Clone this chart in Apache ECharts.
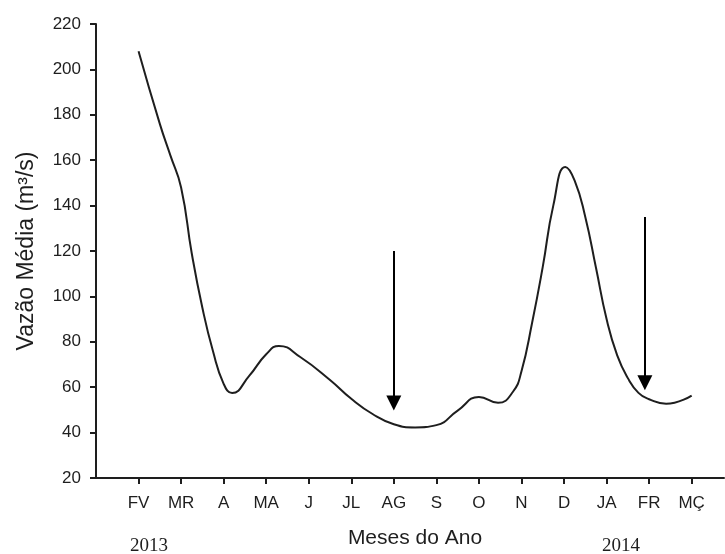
<!DOCTYPE html>
<html>
<head>
<meta charset="utf-8">
<script src="https://cdn.jsdelivr.net/npm/echarts@6/dist/echarts.min.js"></script>
<style>
html,body{margin:0;padding:0;background:#fff;}
#chart{width:725px;height:554px;}
</style>
</head>
<body>
<div id="chart"></div>
<script>
// Tick labels (months), category index 0..13
var months = ['FV','MR','A','MA','J','JL','AG','S','O','N','D','JA','FR','MÇ'];
var yearLabels = ['2013','2014'];
// Curve samples: position in month units, mean flow (m3/s)
var samplePos = [0, 0.5, 0.75, 1, 1.25, 1.5, 1.75, 2, 2.2, 2.6, 3, 3.3, 3.8, 4.5, 5, 5.5, 6, 6.5, 7, 7.5, 8, 8.45, 8.8, 9, 9.25, 9.5, 9.75, 10.03, 10.25, 10.5, 10.75, 11, 11.25, 11.5, 11.75, 12, 12.4, 13];
var flow      = [208, 176, 162, 148, 119, 95, 75.8, 61.5, 57.4, 65, 74.5, 78.2, 73.3, 63.2, 54.9, 48.2, 43.7, 42.3, 43.3, 49.7, 55.7, 53.1, 58, 67, 88.4, 113, 140.2, 157, 151, 135, 112.7, 90, 74, 64, 57.5, 54.7, 52.7, 56.3];
// Arrows: x position (month units), start value, end value
var arrowPos   = [6, 11.9];
var arrowStart = [120, 135];
var arrowEnd   = [53, 62];

var lineData = samplePos.map(function (p, i) { return [p, flow[i]]; });
var arrowData = arrowPos.map(function (p, i) {
  return { coords: [[p, arrowStart[i]], [p, arrowEnd[i]]] };
});
var tickVals = months.map(function (m, i) { return i; });

var chart = echarts.init(document.getElementById('chart'));
var txt = '#1e1e1e';
chart.setOption({
  animation: false,
  backgroundColor: '#fff',
  grid: { left: 96, right: 1, top: 24, bottom: 72, containLabel: false },
  xAxis: {
    type: 'value',
    min: -1, max: 13.76, interval: 1,
    name: 'Meses do Ano',
    nameLocation: 'middle',
    nameGap: 50,
    nameTextStyle: { fontFamily: 'Liberation Sans', fontSize: 21, color: txt, padding: [0, 0, 0, 10] },
    axisLine: { show: true, onZero: false, lineStyle: { color: '#1e1e1e', width: 2 } },
    axisTick: { show: true, customValues: tickVals, length: 6, lineStyle: { color: '#1e1e1e', width: 2 } },
    axisLabel: {
      customValues: tickVals,
      margin: 17,
      fontFamily: 'Liberation Sans', fontSize: 17, color: txt,
      formatter: function (v) { return months[Math.round(v)] || ''; }
    },
    splitLine: { show: false }
  },
  yAxis: {
    type: 'value',
    min: 20, max: 220, interval: 20,
    name: 'Vazão Média (m³/s)',
    nameLocation: 'middle',
    nameRotate: 90,
    nameGap: 58,
    nameTextStyle: { fontFamily: 'Liberation Sans', fontSize: 23, color: txt },
    axisLine: { show: true, onZero: false, lineStyle: { color: '#1e1e1e', width: 2 } },
    axisTick: { show: true, length: 6, lineStyle: { color: '#1e1e1e', width: 2 } },
    axisLabel: { margin: 15, fontFamily: 'Liberation Sans', fontSize: 17, color: txt },
    splitLine: { show: false }
  },
  graphic: [
    { type: 'text', left: 130, top: 537, style: { text: yearLabels[0], fontFamily: 'Liberation Serif', fontSize: 19, fill: txt } },
    { type: 'text', left: 602, top: 537, style: { text: yearLabels[1], fontFamily: 'Liberation Serif', fontSize: 19, fill: txt } }
  ],
  series: [
    {
      type: 'line',
      data: lineData,
      smooth: 0.5,
      symbol: 'none',
      lineStyle: { color: '#1e1e1e', width: 2 }
    },
    {
      type: 'lines',
      coordinateSystem: 'cartesian2d',
      data: arrowData,
      symbol: ['none', 'triangle'],
      symbolSize: [15, 15],
      lineStyle: { color: '#000', width: 2, opacity: 1, curveness: 0 },
      itemStyle: { color: '#000' },
      z: 5
    }
  ]
});
</script>
</body>
</html>
